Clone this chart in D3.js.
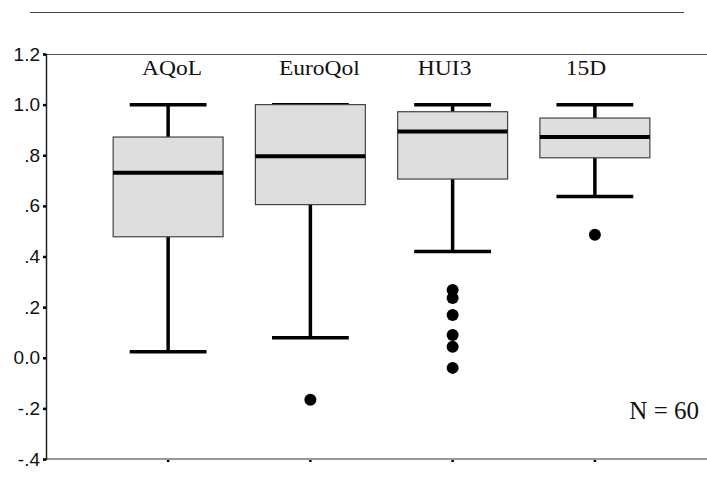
<!DOCTYPE html>
<html>
<head>
<meta charset="utf-8">
<script src="https://cdn.jsdelivr.net/npm/d3@7"></script>
<style>
  html, body { margin: 0; padding: 0; background: #fff; }
  svg { display: block; }
  .serif { font-family: "Liberation Serif", "Times New Roman", serif; }
  .sans { font-family: "Liberation Sans", Arial, sans-serif; }
</style>
</head>
<body>
<svg id="chart" width="707" height="486"></svg>
<script>
// ---- data ----
const categories = ["AQoL", "EuroQol", "HUI3", "15D"];
const whiskerLow  = [0.024, 0.079, 0.420, 0.637];
const q1          = [0.478, 0.605, 0.706, 0.790];
const median      = [0.731, 0.796, 0.894, 0.872];
const q3          = [0.872, 1.000, 0.972, 0.947];
const whiskerHigh = [1.000, 1.000, 1.000, 1.000];
const outliers    = [[], [-0.166], [0.268, 0.236, 0.169, 0.090, 0.043, -0.040], [0.486]];
const yTickValues = [-0.4, -0.2, 0.0, 0.2, 0.4, 0.6, 0.8, 1.0, 1.2];
const yTickLabels = ["-.4", "-.2", "0.0", ".2", ".4", ".6", ".8", "1.0", "1.2"];
const nLabel = "N = 60";

// ---- layout ----
const axisX = 46, plotTop = 54, plotBottom = 459, plotRight = 707;
const labelDx = [4, 9, -8, -9];

const svg = d3.select("#chart");

const y = d3.scaleLinear().domain([-0.4, 1.2]).range([plotBottom, plotTop]);
const x = d3.scaleBand().domain(categories).range([97, 666]).padding(0);
const cx = c => x(c) + x.bandwidth() / 2;
const boxW = x.step() * 0.773;
const capW = x.step() * 0.54;

// top separator line
svg.append("line").attr("x1", 30).attr("x2", 684).attr("y1", 12.5).attr("y2", 12.5)
  .attr("stroke", "#444").attr("stroke-width", 1);

// frame: top and bottom lines
svg.append("line").attr("x1", axisX).attr("x2", plotRight).attr("y1", plotTop + 0.5).attr("y2", plotTop + 0.5)
  .attr("stroke", "#555").attr("stroke-width", 1);
svg.append("line").attr("x1", axisX).attr("x2", plotRight).attr("y1", plotBottom).attr("y2", plotBottom)
  .attr("stroke", "#777").attr("stroke-width", 1.5);

// y axis
const yAxis = d3.axisLeft(y).tickValues(yTickValues)
  .tickFormat((d, i) => yTickLabels[i]).tickSize(3).tickPadding(3);
const gy = svg.append("g").attr("transform", `translate(${axisX},0)`).call(yAxis);
gy.attr("font-family", null).attr("font-size", null);
gy.select(".domain").attr("stroke", "#222").attr("stroke-width", 1.5);
gy.selectAll(".tick line").attr("stroke", "#000").attr("stroke-width", 2.5);
gy.selectAll(".tick text").attr("class", "sans")
  .style("font-size", "19px").attr("fill", "#111");

// x axis ticks (small marks only)
const xAxis = d3.axisBottom(x).tickSize(2).tickFormat("");
const gx = svg.append("g").attr("transform", `translate(0,${plotBottom + 1})`).call(xAxis);
gx.select(".domain").remove();
gx.selectAll(".tick line").attr("stroke", "#000").attr("stroke-width", 2.5);

// boxes
const data = categories.map((c, i) => ({
  c, lo: whiskerLow[i], q1: q1[i], med: median[i], q3: q3[i], hi: whiskerHigh[i], out: outliers[i]
}));

const g = svg.append("g");
data.forEach(d => {
  const xc = cx(d.c);
  g.append("line").attr("x1", xc).attr("x2", xc).attr("y1", y(d.hi)).attr("y2", y(d.q3))
    .attr("stroke", "#000").attr("stroke-width", 3.5);
  g.append("line").attr("x1", xc).attr("x2", xc).attr("y1", y(d.q1)).attr("y2", y(d.lo))
    .attr("stroke", "#000").attr("stroke-width", 3.5);
  [d.hi, d.lo].forEach(v => {
    g.append("line").attr("x1", xc - capW / 2).attr("x2", xc + capW / 2).attr("y1", y(v)).attr("y2", y(v))
      .attr("stroke", "#000").attr("stroke-width", 3.5);
  });
  g.append("rect").attr("x", xc - boxW / 2).attr("width", boxW)
    .attr("y", y(d.q3)).attr("height", y(d.q1) - y(d.q3))
    .attr("fill", "#dedede").attr("stroke", "#444").attr("stroke-width", 1.2);
  g.append("line").attr("x1", xc - boxW / 2).attr("x2", xc + boxW / 2).attr("y1", y(d.med)).attr("y2", y(d.med))
    .attr("stroke", "#000").attr("stroke-width", 4);
  d.out.forEach(v => {
    g.append("circle").attr("cx", xc).attr("cy", y(v)).attr("r", 6).attr("fill", "#000");
  });
});

// category labels
categories.forEach((c, i) => {
  const lx = cx(c) + labelDx[i];
  svg.append("text").attr("class", "serif")
    .attr("transform", `translate(${lx},75) scale(1.12,1)`)
    .attr("text-anchor", "middle")
    .style("font-size", "21px").attr("fill", "#111").text(c);
});

// N label
svg.append("text").attr("class", "serif").attr("x", 699).attr("y", 419).attr("text-anchor", "end")
  .style("font-size", "25px").attr("fill", "#111").text(nLabel);
</script>
</body>
</html>
